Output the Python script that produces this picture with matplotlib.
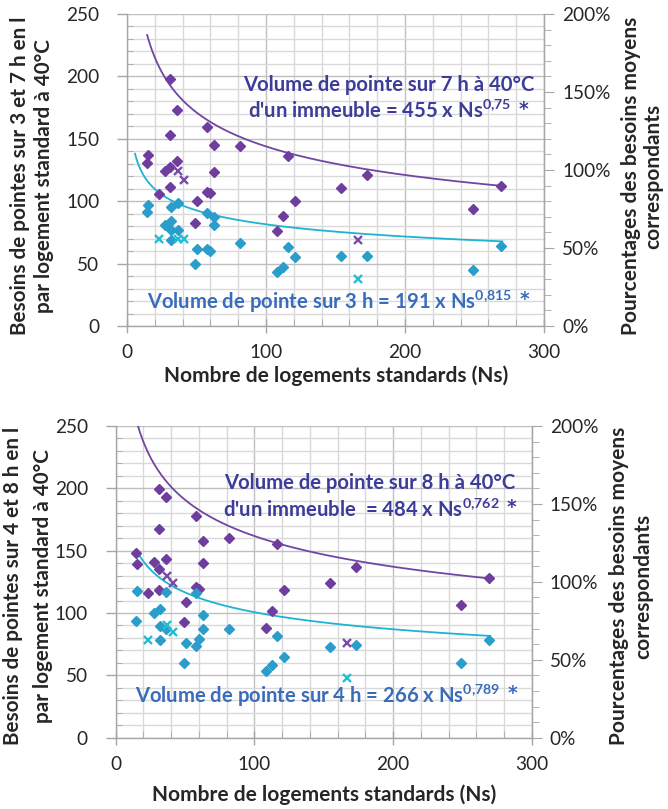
import numpy as np
import matplotlib
matplotlib.use("Agg")
import matplotlib.pyplot as plt
from matplotlib.ticker import MultipleLocator, FuncFormatter

plt.rcParams['font.family'] = ['Lato', 'DejaVu Sans']
plt.rcParams['mathtext.fontset'] = 'custom'
plt.rcParams['mathtext.rm'] = 'Lato'
plt.rcParams['mathtext.bf'] = 'Lato:bold'

# ---------------- data: top chart (3 h / 7 h) ----------------
top_7h_x = [14.9, 14.2, 22.8, 27.3, 31.2, 31.2, 31.2, 31.2, 36.2, 36.2, 48.9, 50.6, 57.8, 57.8,
            59.5, 62.4, 62.4, 81.3, 107.9, 112.0, 116.0, 120.9, 153.7, 172.4, 248.7, 268.8]
top_7h_y = [137, 130.4, 105.5, 124, 198.2, 153.4, 127.2, 111.4, 172.8, 132.5, 82.5, 100.3, 159.5, 107.4,
            106.2, 145.4, 123.2, 144, 76.4, 88.1, 136, 100.4, 110.6, 120.8, 93.8, 112]
top_7h_cross_x = [36.9, 41.2, 166.0]
top_7h_cross_y = [124, 116.8, 68.9]

top_3h_x = [14.9, 14.2, 27.3, 31.4, 31.4, 31.4, 31.4, 36.5, 36.5, 48.9, 50.6, 57.8, 57.8, 59.7,
            62.6, 62.6, 81.3, 107.9, 112.0, 115.8, 120.9, 153.7, 172.4, 248.7, 268.8]
top_3h_y = [97.3, 91.7, 81.2, 95.1, 84.1, 76.9, 68.7, 98.6, 77.2, 50, 61.5, 90.5, 61.5, 59.9,
            87.3, 81.2, 66.3, 43.3, 47, 63.3, 55.5, 56.2, 56.4, 45.2, 64.4]
top_3h_cross_x = [22.8, 36.5, 41.2, 166.0]
top_3h_cross_y = [69.7, 69.7, 69.7, 37.7]

# ---------------- data: bottom chart (4 h / 8 h) ----------------
bot_8h_x = [14.6, 15.1, 23.3, 27.4, 31.4, 31.4, 31.4, 31.4, 36.5, 36.5, 49.0, 50.9, 58.1, 58.1,
            60.0, 62.7, 62.7, 81.7, 108.4, 112.7, 116.3, 121.2, 154.2, 173.2, 249.2, 269.1]
bot_8h_y = [148.5, 139.4, 115.9, 141, 199.8, 167.3, 135.2, 118.8, 192.9, 143.7, 92.6, 108.6, 177.7, 121.2,
            119.3, 158.1, 140, 160.3, 87.7, 101.5, 155.2, 118.2, 124.3, 137, 106.2, 128.2]
bot_8h_cross_x = [37.0, 41.5, 166.7]
bot_8h_cross_y = [129.5, 124.4, 76.3]

bot_4h_x = [14.6, 15.6, 27.4, 31.9, 31.9, 31.9, 36.5, 36.5, 49.0, 50.9, 58.1, 58.1, 59.8, 62.7,
            62.7, 81.7, 108.4, 112.7, 116.4, 121.2, 154.2, 173.2, 249.2, 269.1]
bot_4h_y = [93.9, 117.7, 99.8, 103, 89.6, 78.4, 117.2, 87.2, 60.2, 76.2, 116.1, 73.4, 79.2, 98.5,
            87.2, 87.5, 53.8, 58.5, 81.2, 64.6, 72.8, 74.4, 60.2, 78.7]
bot_4h_cross_x = [23.3, 37.0, 41.5, 166.7]
bot_4h_cross_y = [78.4, 90.4, 85.1, 47.7]

# trend-line coefficients (per building volume = a * Ns^b, per dwelling = a * Ns^(b-1))
trend_7h = (455, 0.75, 14.5, 270)
trend_3h = (191, 0.815, 5.8, 270)
trend_8h = (484, 0.762, 14.0, 270)
trend_4h = (266, 0.789, 15.5, 270)

x_ticks = [0, 100, 200, 300]
y_ticks = [0, 50, 100, 150, 200, 250]
pct_ticks = [0, 0.5, 1.0, 1.5, 2.0]

PURPLE = '#6E3D9E'
PURPLE_X = '#7A4BAA'
TEAL = '#2B9DCB'
TEAL_X = '#22BED6'
LINE_P = '#7146A3'
LINE_T = '#1DB3D2'
TXT_P = '#3D3C99'
TXT_T = '#3A6CBC'
GRID_MIN = '#D9D9D9'
GRID_MAJ = '#BFBFBF'
SPINE = '#A6A6A6'
TXT = '#262626'

W, H = 668, 809
fig = plt.figure(figsize=(W / 100, H / 100), dpi=100)
renderer = fig.canvas.get_renderer()


def fit_size(text, target_px, weight='bold', base=12.0):
    """Font size so that a horizontal run of `text` is target_px wide."""
    t = fig.text(0, 0, text, fontsize=base, fontweight=weight)
    w = t.get_window_extent(renderer=renderer).width
    t.remove()
    return base * target_px / w


FS_TICK = fit_size("250", 33, weight='normal')
FS_ANN = fit_size("Volume de pointe sur 7 h à 40°C", 290)
FS_XLAB = fit_size("Nombre de logements standards (Ns)", 342)
FS_YLAB = fit_size("Besoins de pointes sur 3 et 7 h en l", 316)
FS_RLAB = fit_size("Pourcentages des besoins moyens", 316)


def setup_axes(rect):
    ax = fig.add_axes(rect)
    ax.set_xlim(0, 300)
    ax.set_ylim(0, 250)
    ax.set_xticks(x_ticks)
    ax.set_yticks(y_ticks)
    ax.xaxis.set_minor_locator(MultipleLocator(20))
    ax.yaxis.set_minor_locator(MultipleLocator(10))
    ax.grid(which='minor', color=GRID_MIN, lw=1.0, zorder=0)
    ax.grid(which='major', color=GRID_MAJ, lw=1.0, zorder=0)
    ax.set_axisbelow(True)
    ax.spines['top'].set_visible(False)
    for s in ['left', 'bottom', 'right']:
        ax.spines[s].set_color(SPINE)
        ax.spines[s].set_linewidth(1.0)
    ax.tick_params(axis='both', which='major', labelsize=FS_TICK, colors=SPINE, labelcolor=TXT, width=1)
    ax.tick_params(axis='y', which='major', direction='out', length=7, pad=13)
    ax.tick_params(axis='y', which='minor', direction='in', length=4, color=SPINE)
    ax.tick_params(axis='x', which='major', direction='inout', length=10, pad=8)
    ax.tick_params(axis='x', which='minor', direction='in', length=5, color=SPINE)
    ax2 = ax.twinx()
    ax2.set_ylim(0, 2.0)
    ax2.set_yticks(pct_ticks)
    ax2.yaxis.set_minor_locator(MultipleLocator(0.1))
    ax2.yaxis.set_major_formatter(FuncFormatter(lambda v, p: f"{int(round(v * 100))}%"))
    for s in ['top', 'left', 'bottom']:
        ax2.spines[s].set_visible(False)
    ax2.spines['right'].set_color(SPINE)
    ax2.tick_params(axis='y', which='major', direction='out', length=7, pad=6, labelsize=FS_TICK,
                    colors=SPINE, labelcolor=TXT)
    ax2.tick_params(axis='y', which='minor', direction='out', length=5, color=SPINE)
    return ax


def draw(ax, px, py, pcx, pcy, tx, ty, tcx, tcy, trend_p, trend_t):
    for (a, b, x0, x1), col in [(trend_p, LINE_P), (trend_t, LINE_T)]:
        xs = np.linspace(x0, x1, 300)
        ax.plot(xs, a * xs ** (b - 1.0), color=col, lw=1.3, zorder=2, clip_on=True)
    ax.plot(px, py, 'D', color=PURPLE, ms=5.5, mec=PURPLE, zorder=3, ls='none')
    ax.plot(tx, ty, 'D', color=TEAL, ms=5.5, mec=TEAL, zorder=3, ls='none')
    ax.plot(pcx, pcy, 'x', color=PURPLE_X, ms=5.5, mew=1.7, zorder=3, ls='none')
    ax.plot(tcx, tcy, 'x', color=TEAL_X, ms=5.5, mew=1.7, zorder=3, ls='none')


def ann(ax, x, y, s, color, ha):
    t = ax.text(x, y, s, color=color, fontsize=FS_ANN, fontweight='bold', ha=ha, va='center')
    ax.annotate("*", xy=(1, 0.5), xycoords=t, xytext=(5, 1.5), textcoords='offset points',
                color=color, fontsize=FS_ANN * 0.92, fontweight='bold', family='DejaVu Sans',
                ha='left', va='center')
    return t


def labels(yl1, yl2, ycen, hours, xl_y, xl_cx, rl_x1, rl_x2):
    fig.text(xl_cx / W, 1 - xl_y / H, "Nombre de logements standards (Ns)", fontsize=FS_XLAB,
             fontweight='bold', color=TXT, ha='center', va='center')
    fig.text(yl1 / W, 1 - ycen / H, "Besoins de pointes sur " + hours + " h en l", rotation=90,
             fontsize=FS_YLAB, fontweight='bold', color=TXT, ha='center', va='center')
    fig.text(yl2 / W, 1 - ycen / H, "par logement standard à 40°C", rotation=90, fontsize=FS_YLAB,
             fontweight='bold', color=TXT, ha='center', va='center')
    fig.text(rl_x1 / W, 1 - ycen / H, "Pourcentages des besoins moyens", rotation=90, fontsize=FS_RLAB,
             fontweight='bold', color=TXT, ha='center', va='center')
    fig.text(rl_x2 / W, 1 - ycen / H, "correspondants", rotation=90, fontsize=FS_RLAB,
             fontweight='bold', color=TXT, ha='center', va='center')


# ---------- top chart ----------
ax1 = setup_axes([127 / W, 1 - 326 / H, 417 / W, 312 / H])
draw(ax1, top_7h_x, top_7h_y, top_7h_cross_x, top_7h_cross_y,
     top_3h_x, top_3h_y, top_3h_cross_x, top_3h_cross_y, trend_7h, trend_3h)
ax1.text(188, 193, "Volume de pointe sur 7 h à 40°C", color=TXT_P, fontsize=FS_ANN,
         fontweight='bold', ha='center', va='center')
ann(ax1, 182, 172, r"d'un immeuble = 455 x Ns$^{\mathbf{0{,}75}}$", TXT_P, 'center')
ann(ax1, 14.4, 19.5, r"Volume de pointe sur 3 h = 191 x Ns$^{\mathbf{0{,}815}}$", TXT_T, 'left')
labels(20, 44, 176, "3 et 7", 376, 336, 631, 653)

# ---------- bottom chart ----------
ax3 = setup_axes([115.7 / W, 1 - 737.7 / H, 416 / W, 311.7 / H])
draw(ax3, bot_8h_x, bot_8h_y, bot_8h_cross_x, bot_8h_cross_y,
     bot_4h_x, bot_4h_y, bot_4h_cross_x, bot_4h_cross_y, trend_8h, trend_4h)
ax3.text(183, 204.4, "Volume de pointe sur 8 h à 40°C", color=TXT_P, fontsize=FS_ANN,
         fontweight='bold', ha='center', va='center')
ann(ax3, 177, 182.7, r"d'un immeuble  = 484 x Ns$^{\mathbf{0{,}762}}$", TXT_P, 'center')
ann(ax3, 13.9, 33.5, r"Volume de pointe sur 4 h = 266 x Ns$^{\mathbf{0{,}789}}$", TXT_T, 'left')
labels(13, 43, 586, "4 et 8", 795, 324, 619, 643)

fig.savefig("out.png", dpi=100, facecolor='white')
